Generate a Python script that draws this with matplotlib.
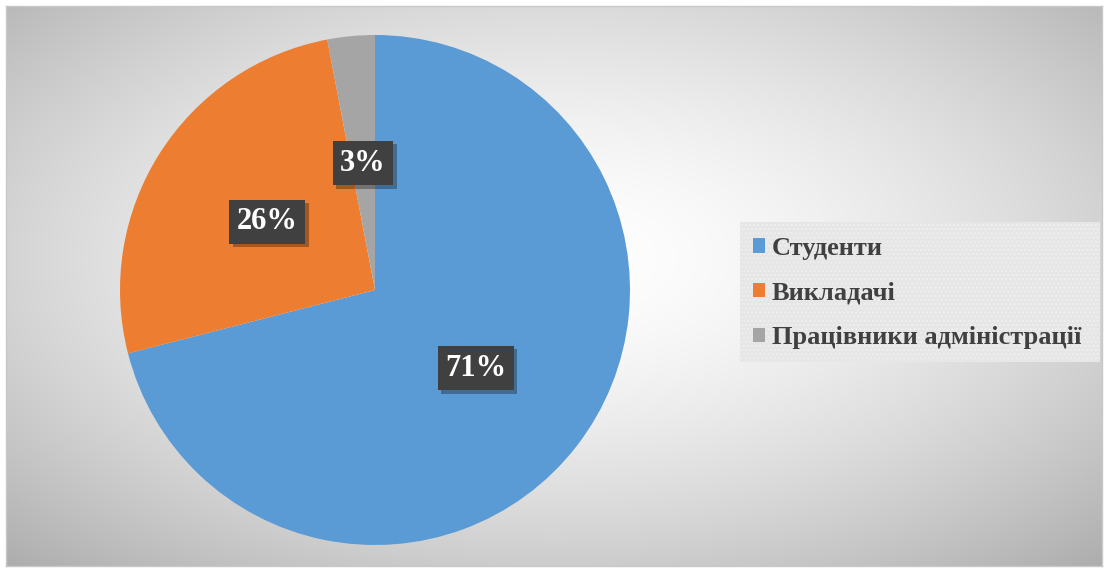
import numpy as np
import matplotlib
matplotlib.use("Agg")
import matplotlib.pyplot as plt
from matplotlib.patches import Patch, Rectangle
from matplotlib import patheffects as pe

labels = ["Студенти", "Викладачі", "Працівники адміністрації"]
values = [71, 26, 3]
colors = ["#5B9BD5", "#ED7D31", "#A5A5A5"]

W, H = 1108, 572
fig = plt.figure(figsize=(W / 100, H / 100), dpi=100)
fig.patch.set_facecolor("white")

# background with radial gradient inside a frame
bx0, by0, bx1, by1 = 6, 6, 1102, 566
bg = fig.add_axes([bx0 / W, 1 - by1 / H, (bx1 - bx0) / W, (by1 - by0) / H])
yy, xx = np.mgrid[0:1:300j, 0:1:600j]
r = np.sqrt(((xx - 0.5) / 0.62) ** 2 + ((yy - 0.45) / 0.62) ** 2)
val = 1.0 - 0.24 * np.clip(r, 0, 1.2) ** 1.6
img = np.dstack([val, val, val])
bg.imshow(img, aspect="auto", extent=[0, 1, 0, 1], origin="upper", interpolation="bilinear")
bg.set_xlim(0, 1)
bg.set_ylim(0, 1)
bg.set_xticks([])
bg.set_yticks([])
for s in bg.spines.values():
    s.set_color("#c8c8c8")
    s.set_linewidth(1.0)

# pie
cx, cy, rad = 375, 290, 255
ax = fig.add_axes([(cx - rad) / W, 1 - (cy + rad) / H, 2 * rad / W, 2 * rad / H])
ax.set_facecolor("none")
wedges, texts, autotexts = ax.pie(
    values, colors=colors, startangle=90, counterclock=False,
    autopct="%d%%", pctdistance=0.5, radius=1.0,
    wedgeprops=dict(linewidth=0),
    textprops=dict(color="white", fontsize=22, fontweight="bold", family="Liberation Serif"),
)
ax.set_xlim(-1, 1)
ax.set_ylim(-1, 1)
ax.set_aspect("equal")
for t in autotexts:
    t.set_bbox(dict(boxstyle="square,pad=0.25", facecolor="#404040", edgecolor="none"))
    t.get_bbox_patch().set_path_effects([
        pe.SimplePatchShadow(offset=(2.5, -2.5), shadow_rgbFace="#000000", alpha=0.3),
        pe.Normal(),
    ])

# legend background
lx0, ly0, lx1, ly1 = 740, 222, 1100, 362
lb = Rectangle((lx0 / W, 1 - ly1 / H), (lx1 - lx0) / W, (ly1 - ly0) / H,
               transform=fig.transFigure, facecolor="#e6e6e6", edgecolor="#efefef",
               hatch="....", linewidth=0, zorder=1)
fig.add_artist(lb)

handles = [Patch(facecolor=c, edgecolor="none") for c in colors]
leg = fig.legend(handles, labels, loc="center left",
                 bbox_to_anchor=(753 / W, 1 - 293 / H),
                 frameon=False, handlelength=0.45, handleheight=0.45,
                 handletextpad=0.27, labelspacing=0.82,
                 borderpad=0, borderaxespad=0,
                 prop=dict(family="Liberation Serif", weight="bold", size=19))
for t in leg.get_texts():
    t.set_color("#404040")

fig.savefig("out.png", dpi=100, facecolor="white")
